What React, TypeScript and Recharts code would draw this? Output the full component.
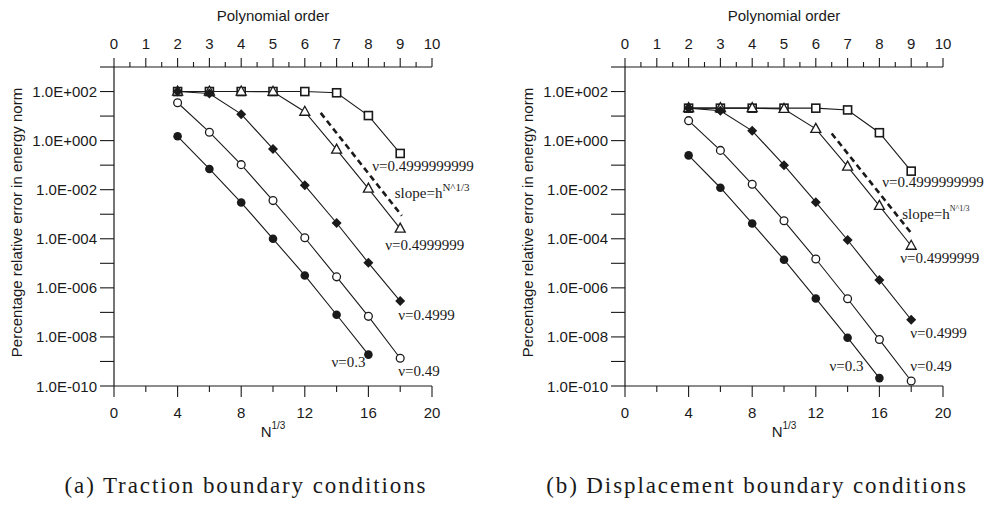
import { Line, LineChart, XAxis, YAxis } from "recharts";

// N^(1/3) positions of the computed points and their polynomial orders
const nValues = [4, 6, 8, 10, 12, 14, 16, 18];
const orderValues = [2, 3, 4, 5, 6, 7, 8, 9];
const nTicks = [0, 2, 4, 6, 8, 10, 12, 14, 16, 18, 20];
const orderTicks = [0, 0.5, 1, 1.5, 2, 2.5, 3, 3.5, 4, 4.5, 5, 5.5, 6, 6.5, 7, 7.5, 8, 8.5, 9, 9.5, 10];
const errTicks = [1e-10, 1e-9, 1e-8, 1e-7, 1e-6, 1e-5, 1e-4, 1e-3, 1e-2, 1e-1, 1, 10, 100, 1000];

// (a) traction boundary conditions
const tractionNu03 = [1.5, 7e-2, 3e-3, 1e-4, 3.2e-6, 8e-8, 1.9e-9];
const tractionNu049 = [35, 2.2, 0.105, 3.6e-3, 1.1e-4, 2.8e-6, 6.9e-8, 1.35e-9];
const tractionNu04999 = [100, 83, 12, 0.46, 0.015, 4.4e-4, 1.05e-5, 2.9e-7];
const tractionNu04999999 = [100, 100, 100, 98, 15, 0.43, 0.011, 2.6e-4];
const tractionNu04999999999 = [100, 100, 100, 100, 100, 89, 10.5, 0.3];
const tractionSlopeN = [13, 18.1];
const tractionSlope = [13.5, 8.7e-4];

// (b) displacement boundary conditions
const dispNu03 = [0.25, 1.2e-2, 4.2e-4, 1.4e-5, 3.7e-7, 9.3e-9, 2.1e-10];
const dispNu049 = [6.5, 0.4, 0.0166, 5.4e-4, 1.5e-5, 3.6e-7, 7.8e-9, 1.6e-10];
const dispNu04999 = [21, 16.6, 2.5, 0.1, 3.1e-3, 8.9e-5, 2.1e-6, 5e-8];
const dispNu04999999 = [21, 21, 21, 19.5, 3.0, 0.087, 2.2e-3, 5.2e-5];
const dispNu04999999999 = [21, 21, 21, 21, 21, 17.8, 2.1, 0.057];
const dispSlopeN = [13, 18];
const dispSlope = [1.95, 1.7e-4];

const seriesNames = ["ν=0.3", "ν=0.49", "ν=0.4999", "ν=0.4999999", "ν=0.4999999999"];
const markers = ["circleFilled", "circleOpen", "diamond", "triangle", "square"];
// squares underneath, filled diamonds on top where the curves overlap
const drawOrder = [4, 3, 2, 1, 0];

const INK = "#1a1a1a";
const SANS = "'Liberation Sans', Arial, sans-serif";
const SERIF = "'Liberation Serif', 'Times New Roman', serif";

const toPoints = (xs: number[], ys: number[]) => ys.map((v, i) => ({ n: xs[i], err: v }));
const toOrderPoints = (ps: number[], ys: number[]) => ys.map((v, i) => ({ order: ps[i], err: v }));

const fmtE = (exp: number) => `1.0E${exp < 0 ? "-" : "+"}${String(Math.abs(exp)).padStart(3, "0")}`;

function Marker({ shape, cx, cy }: { shape: string; cx: number; cy: number }) {
	if (shape === "circleFilled") return <circle cx={cx} cy={cy} r={4.3} fill={INK} />;
	if (shape === "circleOpen") return <circle cx={cx} cy={cy} r={3.9} fill="#fff" stroke={INK} strokeWidth={1.3} />;
	if (shape === "diamond")
		return <polygon points={`${cx},${cy - 5} ${cx + 5},${cy} ${cx},${cy + 5} ${cx - 5},${cy}`} fill={INK} />;
	if (shape === "triangle")
		return (
			<polygon
				points={`${cx},${cy - 5.5} ${cx + 5},${cy + 3.5} ${cx - 5},${cy + 3.5}`}
				fill="#fff"
				stroke={INK}
				strokeWidth={1.3}
			/>
		);
	return <rect x={cx - 4} y={cy - 4} width={8} height={8} fill="#fff" stroke={INK} strokeWidth={1.6} />;
}

type Place = { dx: number; dy: number; anchor?: "start" | "end" };

const makeDot = (shape: string | null, lastIndex: number, label: React.ReactNode, place: Place) => (props: any) => {
	const { cx, cy, index } = props;
	return (
		<g key={`dot-${index}`}>
			{shape && <Marker shape={shape} cx={cx} cy={cy} />}
			{index === lastIndex && (
				<text
					x={cx + place.dx}
					y={cy + place.dy}
					textAnchor={place.anchor ?? "start"}
					dominantBaseline="central"
					fontFamily={SERIF}
					fontSize={15}
					fill={INK}
				>
					{label}
				</text>
			)}
		</g>
	);
};

const ErrTick = (props: any) => {
	const { x, y, payload } = props;
	const exp = Math.round(Math.log10(payload.value));
	const show = exp % 2 === 0 && exp < 3;
	return (
		<g>
			<line x1={x - 14} x2={x} y1={y} y2={y} stroke={INK} strokeWidth={1.1} />
			{show && (
				<text x={x - 17} y={y} textAnchor="end" dominantBaseline="central" fontFamily={SANS} fontSize={15} fill={INK}>
					{fmtE(exp)}
				</text>
			)}
		</g>
	);
};

const NTick = (props: any) => {
	const { x, y, payload } = props;
	const major = payload.value % 4 === 0;
	return (
		<g>
			<line x1={x} x2={x} y1={y} y2={y + (major ? 11 : 6)} stroke={INK} strokeWidth={1.1} />
			{major && (
				<text x={x} y={y + 26} textAnchor="middle" dominantBaseline="central" fontFamily={SANS} fontSize={15} fill={INK}>
					{payload.value}
				</text>
			)}
		</g>
	);
};

const OrderTick = (props: any) => {
	const { x, y, payload } = props;
	const major = Number.isInteger(payload.value);
	return (
		<g>
			<line x1={x} x2={x} y1={y} y2={y - (major ? 9 : 5)} stroke={INK} strokeWidth={1.1} />
			{major && (
				<text x={x} y={y - 24} textAnchor="middle" dominantBaseline="central" fontFamily={SANS} fontSize={15} fill={INK}>
					{payload.value}
				</text>
			)}
		</g>
	);
};

type PanelProps = {
	left: number;
	caption: string;
	series: number[][];
	slopeN: number[];
	slope: number[];
	places: Place[];
	slopePlace: Place;
	supSize: number;
};

function Panel({ left, caption, series, slopeN, slope, places, slopePlace, supSize }: PanelProps) {
	const slopeLabel = (
		<>
			slope=h
			<tspan fontSize={supSize} dy={-6}>
				N^1/3
			</tspan>
		</>
	);
	return (
		<div style={{ position: "absolute", left, top: 0, width: 483, height: 507 }}>
			<LineChart width={483} height={440} margin={{ top: 0, right: 51, bottom: 0, left: 0 }}>
				<XAxis
					xAxisId="n"
					type="number"
					dataKey="n"
					domain={[0, 20]}
					ticks={nTicks}
					interval={0}
					height={54}
					tickSize={0}
					tickMargin={0}
					tickLine={false}
					tick={<NTick />}
					axisLine={{ stroke: INK, strokeWidth: 1.2 }}
					label={(p: any) => {
						const vb = p.viewBox ?? { x: 0, y: 386, width: 318 };
						return (
							<text x={vb.x + vb.width / 2} y={vb.y + 45} textAnchor="middle" dominantBaseline="central" fontFamily={SANS} fontSize={15} fill={INK}>
								N
								<tspan fontSize={10} dy={-6}>
									1/3
								</tspan>
							</text>
						);
					}}
				/>
				<XAxis
					xAxisId="order"
					orientation="top"
					type="number"
					dataKey="order"
					domain={[0, 10]}
					allowDataOverflow
					ticks={orderTicks}
					interval={0}
					height={67}
					tickSize={0}
					tickMargin={0}
					tickLine={false}
					tick={<OrderTick />}
					axisLine={{ stroke: INK, strokeWidth: 1.2 }}
					label={(p: any) => {
						const vb = p.viewBox ?? { x: 114, y: 0, width: 318 };
						return (
							<text x={vb.x + vb.width / 2} y={vb.y + 15} textAnchor="middle" dominantBaseline="central" fontFamily={SANS} fontSize={15} fill={INK}>
								Polynomial order
							</text>
						);
					}}
				/>
				<YAxis
					yAxisId="err"
					type="number"
					scale="log"
					domain={[1e-10, 1e3]}
					ticks={errTicks}
					interval={0}
					width={114}
					tickSize={0}
					tickMargin={0}
					tickLine={false}
					tick={<ErrTick />}
					axisLine={{ stroke: INK, strokeWidth: 1.2 }}
					label={(p: any) => {
						const vb = p.viewBox ?? { x: 0, y: 67, height: 319 };
						const cx = vb.x + 16;
						const cy = vb.y + vb.height / 2 - 4;
						return (
							<text x={cx} y={cy} transform={`rotate(-90 ${cx} ${cy})`} textAnchor="middle" dominantBaseline="central" fontFamily={SANS} fontSize={15} fill={INK}>
								Percentage relative error in energy norm
							</text>
						);
					}}
				/>
				{/* carries the polynomial-order axis; draws nothing */}
				<Line
					xAxisId="order"
					yAxisId="err"
					data={toOrderPoints(orderValues, series[series.length - 1])}
					dataKey="err"
					stroke="none"
					dot={false}
					activeDot={false}
					legendType="none"
					isAnimationActive={false}
				/>
				{drawOrder.map((i) => (
					<Line
						key={seriesNames[i]}
						xAxisId="n"
						yAxisId="err"
						data={toPoints(nValues, series[i])}
						dataKey="err"
						stroke={INK}
						strokeWidth={1.1}
						dot={makeDot(markers[i], series[i].length - 1, seriesNames[i], places[i])}
						activeDot={false}
						isAnimationActive={false}
					/>
				))}
				<Line
					xAxisId="n"
					yAxisId="err"
					data={toPoints(slopeN, slope)}
					dataKey="err"
					stroke={INK}
					strokeWidth={2.6}
					strokeDasharray="6 4"
					dot={makeDot(null, slope.length - 1, slopeLabel, slopePlace)}
					activeDot={false}
					isAnimationActive={false}
				/>
			</LineChart>
			<div
				style={{
					position: "absolute",
					left: 0,
					top: 473,
					width: 492,
					textAlign: "center",
					fontFamily: SERIF,
					fontSize: 23,
					letterSpacing: 1.9,
					color: INK,
				}}
			>
				{caption}
			</div>
		</div>
	);
}

export default function App() {
	return (
		<div style={{ position: "absolute", left: 0, top: 0, width: 994, height: 507, background: "#fff" }}>
			<Panel
				left={0}
				caption="(a) Traction boundary conditions"
				series={[tractionNu03, tractionNu049, tractionNu04999, tractionNu04999999, tractionNu04999999999]}
				slopeN={tractionSlopeN}
				slope={tractionSlope}
				places={[
					{ dx: -3, dy: 7, anchor: "end" },
					{ dx: -2, dy: 13 },
					{ dx: -2, dy: 14 },
					{ dx: -15, dy: 16 },
					{ dx: -28, dy: 13 },
				]}
				slopePlace={{ dx: -7, dy: -23 }}
				supSize={11}
			/>
			<Panel
				left={511}
				caption="(b) Displacement boundary conditions"
				series={[dispNu03, dispNu049, dispNu04999, dispNu04999999, dispNu04999999999]}
				slopeN={dispSlopeN}
				slope={dispSlope}
				places={[
					{ dx: -16, dy: -12, anchor: "end" },
					{ dx: -1, dy: -15 },
					{ dx: -1, dy: 13 },
					{ dx: -11, dy: 12 },
					{ dx: -29, dy: 11 },
				]}
				slopePlace={{ dx: -9, dy: -19 }}
				supSize={8}
			/>
		</div>
	);
}
